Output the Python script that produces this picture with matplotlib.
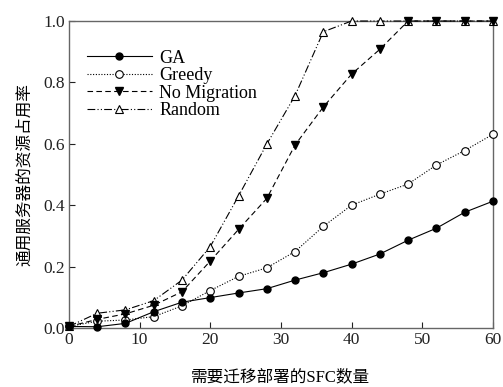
import matplotlib
matplotlib.use("Agg")
import matplotlib.pyplot as plt

plt.rcParams['font.family'] = ['Liberation Serif', 'Noto Sans CJK SC']

# data
sfc_count = [0, 4, 8, 12, 16, 20, 24, 28, 32, 36, 40, 44, 48, 52, 56, 60]
ga = [0.005, 0.004, 0.015, 0.053, 0.084, 0.099, 0.114, 0.128, 0.156, 0.18,
      0.208, 0.241, 0.286, 0.325, 0.377, 0.413]
greedy = [0.005, 0.022, 0.026, 0.037, 0.072, 0.122, 0.168, 0.196, 0.249, 0.331,
          0.40, 0.436, 0.469, 0.531, 0.578, 0.631]
no_migration = [0.005, 0.028, 0.046, 0.074, 0.118, 0.218, 0.321, 0.422, 0.596, 0.72,
                0.827, 0.908, 1.0, 1.0, 1.0, 1.0]
random_alg = [0.005, 0.048, 0.059, 0.089, 0.156, 0.265, 0.43, 0.599, 0.757, 0.965,
              1.0, 1.0, 1.0, 1.0, 1.0, 1.0]

fig = plt.figure(figsize=(5.03, 3.87), dpi=100)
ax = fig.add_axes([0.137, 0.1525, 0.843, 0.7932])

lw = 0.8
ax.plot(sfc_count, ga, color='black', linestyle='-', linewidth=lw,
        marker='o', markersize=5, markerfacecolor='black', label='GA', clip_on=False, zorder=5)
ax.plot(sfc_count, greedy, color='black', linestyle=(0, (1, 1.5)), linewidth=lw,
        marker='o', markersize=5.5, markerfacecolor='white', markeredgewidth=0.8,
        label='Greedy', clip_on=False, zorder=4)
ax.plot(sfc_count, no_migration, color='black', linestyle=(0, (5, 3)), linewidth=lw,
        marker='v', markersize=6, markerfacecolor='black', label='No Migration',
        clip_on=False, zorder=4)
ax.plot(sfc_count, random_alg, color='black', linestyle=(0, (7, 2, 1, 2, 1, 2)), linewidth=lw,
        marker='^', markersize=5.5, markerfacecolor='white', markeredgewidth=0.8,
        label='Random', clip_on=False, zorder=3)

ax.set_xlim(0, 60)
ax.set_ylim(0, 1.0)
ax.set_xticks([0, 10, 20, 30, 40, 50, 60])
ax.set_yticks([0.0, 0.2, 0.4, 0.6, 0.8, 1.0])
ax.set_yticklabels(['0.0', '0.2', '0.4', '0.6', '0.8', '1.0'])
ax.tick_params(direction='in', length=4, width=0.8, labelsize=12.5, colors='#222222',
               top=False, right=False, pad=3)
for s in ax.spines.values():
    s.set_color('#666666')
    s.set_linewidth(1.0)

ax.set_xlabel('需要迁移部署的SFC数量', fontsize=12, labelpad=15)
ax.set_ylabel('通用服务器的资源占用率', fontsize=12, labelpad=7)

leg = ax.legend(loc='upper left', bbox_to_anchor=(0.0, 0.965), frameon=False,
                fontsize=13, handlelength=3.6, handletextpad=0.4,
                labelspacing=0.02, borderaxespad=0.6)

fig.savefig('out.png', dpi=100)
